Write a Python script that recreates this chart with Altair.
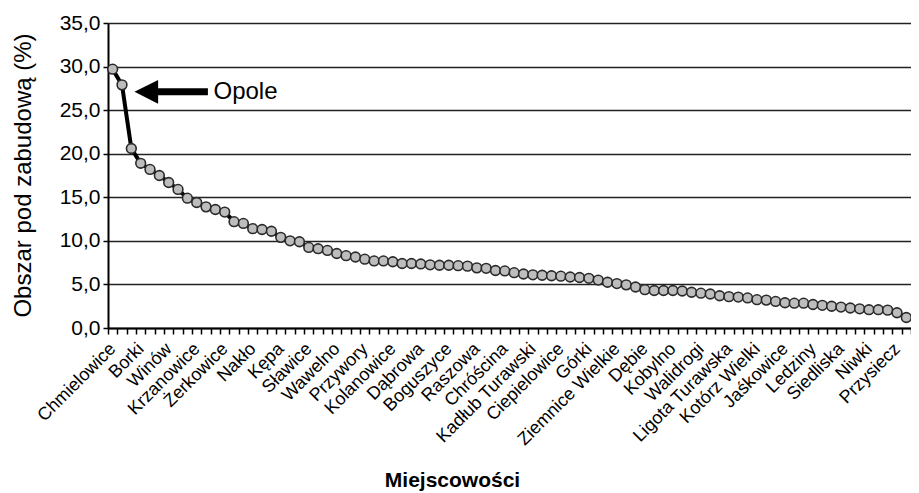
import json
import altair as alt
import pandas as pd

# ---- data ----
values = [29.7, 27.9, 20.6, 18.9, 18.2, 17.5, 16.7, 15.9, 14.9, 14.4,
          13.9, 13.6, 13.3, 12.2, 12.0, 11.4, 11.3, 11.1, 10.4, 10.0,
          9.9, 9.25, 9.1, 8.9, 8.55, 8.3, 8.15, 7.9, 7.7, 7.7,
          7.6, 7.4, 7.4, 7.35, 7.25, 7.2, 7.2, 7.15, 7.1, 6.9,
          6.85, 6.6, 6.55, 6.35, 6.2, 6.1, 6.05, 6.0, 5.95, 5.85,
          5.8, 5.7, 5.5, 5.25, 5.1, 4.95, 4.7, 4.4, 4.3, 4.3,
          4.3, 4.25, 4.1, 4.0, 3.9, 3.7, 3.6, 3.55, 3.45, 3.25,
          3.2, 3.05, 2.9, 2.85, 2.85, 2.7, 2.6, 2.5, 2.4, 2.3,
          2.2, 2.1, 2.1, 2.05, 1.75, 1.2]

places = ["Chmielowice", "Borki", "Winów", "Krzanowice", "Żerkowice", "Nakło",
          "Kępa", "Sławice", "Wawelno", "Przywory", "Kolanowice", "Dąbrowa",
          "Boguszyce", "Raszowa", "Chróścina", "Kadłub Turawski", "Ciepielowice",
          "Górki", "Ziemnice Wielkie", "Dębie", "Kobylno", "Walidrogi",
          "Ligota Turawska", "Kotórz Wielki", "Jaśkowice", "Ledziny", "Siedliska",
          "Niwki", "Przysiecz"]
label_step = 3

y_ticks = [0, 5, 10, 15, 20, 25, 30, 35]

annot_text = ["Opole"]
arrow_head_x = [3.6]
arrow_tail_x = [10.2]
arrow_y = [27.1]
text_x = [10.8]

# ---- chart ----
FONT = "Liberation Sans"
n = len(values)
W, H = 803, 305
band = W / n

df = pd.DataFrame({"idx": list(range(n)), "val": values})
ann = pd.DataFrame({"hx": arrow_head_x, "tx": arrow_tail_x, "y": arrow_y,
                    "lx": text_x, "t": annot_text})

xscale = alt.Scale(domain=[-0.5, n - 0.5], nice=False, zero=False)
yscale = alt.Scale(domain=[0, 35], nice=False)

names_js = json.dumps(places)
label_expr = (f"((datum.value + 0.5) % {label_step} == 0 && (datum.value + 0.5) / {label_step} < {len(places)})"
              f" ? {names_js}[(datum.value + 0.5) / {label_step}] : ''")

x_axis = alt.Axis(
    values=[k - 0.5 for k in range(n + 1)], tickCount=500,
    labelExpr=label_expr, labelAngle=-45, labelAlign="right", labelBaseline="middle",
    labelOffset=band / 2, labelPadding=12, labelOverlap=False, labelFlush=False,
    labelBound=False, labelFontSize=18, labelColor="black", labelFont=FONT,
    tickSize=6, tickColor="black", tickWidth=1.5,
    domainColor="black", domainWidth=2, grid=False,
    title="Miejscowości", titleFont=FONT, titleFontSize=21, titleFontWeight="bold",
    titleColor="black", titleX=344, titleY=158, titleAlign="center",
    titleBaseline="alphabetic", titleAnchor="start",
)

y_axis = alt.Axis(
    values=y_ticks, tickCount=20,
    labelExpr="replace(format(datum.value, '.1f'), '.', ',')",
    labelFontSize=21, labelFont=FONT, labelColor="black", labelPadding=3,
    tickSize=5, tickColor="black", tickWidth=1.5,
    domainColor="black", domainWidth=2,
    grid=True, gridColor="#222222", gridWidth=1.3,
    title="Obszar pod zabudową (%)", titleFont=FONT, titleFontSize=24,
    titleFontWeight="normal", titleColor="black",
    titleX=-85, titleY=152, titleAngle=-90, titleAlign="center",
    titleBaseline="middle", titleAnchor="start",
)

base = alt.Chart(df).encode(
    x=alt.X("idx:Q", scale=xscale, axis=x_axis),
    y=alt.Y("val:Q", scale=yscale, axis=y_axis),
)

line = base.mark_line(color="black", strokeWidth=4)
pts = base.mark_point(filled=True, fill="#bdbdbd", stroke="#2a2a2a",
                      strokeWidth=1.6, size=95, opacity=1)

shaft = alt.Chart(ann).mark_rule(color="black", strokeWidth=7).encode(
    x=alt.X("hx:Q", scale=xscale), x2="tx:Q", y=alt.Y("y:Q", scale=yscale))
head = alt.Chart(ann).mark_point(shape="M -1 0 L 1 -1 L 1 1 Z", filled=True,
                                 fill="black", size=560, opacity=1).encode(
    x=alt.X("hx:Q", scale=xscale), y=alt.Y("y:Q", scale=yscale))
txt = alt.Chart(ann).mark_text(align="left", baseline="middle", font=FONT,
                               fontSize=24, color="black").encode(
    x=alt.X("lx:Q", scale=xscale), y=alt.Y("y:Q", scale=yscale), text="t:N")

chart = alt.layer(line, pts, shaft, head, txt).properties(
    width=W, height=H,
    autosize=alt.AutoSizeParams(type="none"),
    padding={"left": 100, "top": 15, "right": 0, "bottom": 165},
    background="white",
).configure_view(stroke=None)

chart.save("out.html", embed_options={"renderer": "svg", "actions": False})
